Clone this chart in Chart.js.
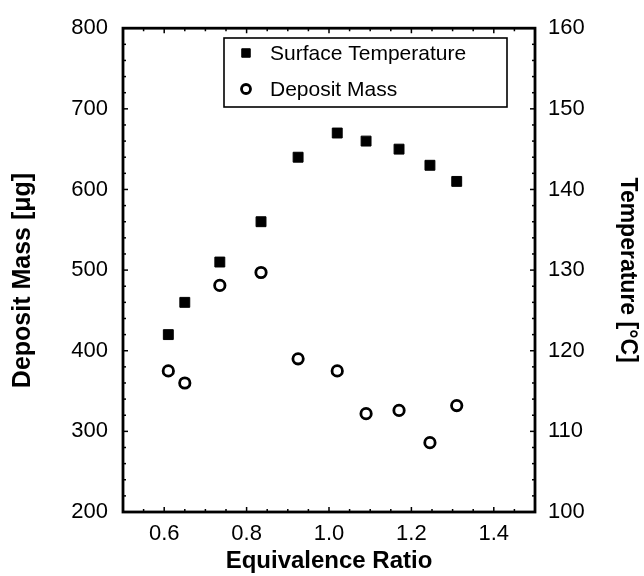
<!DOCTYPE html>
<html>
<head>
<meta charset="utf-8">
<script src="https://cdn.jsdelivr.net/npm/chart.js@4/dist/chart.umd.min.js"></script>
<style>
  html, body { margin: 0; padding: 0; background: #fff; }
  #wrap { width: 644px; height: 576px; }
</style>
</head>
<body>
<div id="wrap"><canvas id="c" width="644" height="576"></canvas></div>
<script>
// ---- data ----
const equivalenceRatio = [0.61, 0.65, 0.735, 0.835, 0.925, 1.02, 1.09, 1.17, 1.245, 1.31];
const surfaceTemperature = [122, 126, 131, 136, 144, 147, 146, 145, 143, 141];
const depositMass = [375, 360, 481, 497, 390, 375, 322, 326, 286, 332];

const xTickValues = [0.6, 0.8, 1.0, 1.2, 1.4];
const massTickValues = [200, 300, 400, 500, 600, 700, 800];
const tempTickValues = [100, 110, 120, 130, 140, 150, 160];

const seriesLabels = ['Surface Temperature', 'Deposit Mass'];

const FONT = "'Liberation Sans', Arial, Helvetica, sans-serif";

const frameAndTicks = {
  id: 'frameAndTicks',
  beforeDatasetsDraw(chart) {
    const {ctx, chartArea: a, scales} = chart;
    ctx.save();
    ctx.strokeStyle = '#000';
    ctx.lineWidth = 1.5;
    const x = scales.x, yl = scales.yMass, yr = scales.yTemp;
    for (let v = 0.5; v <= 1.5001; v += 0.05) {
      const px = x.getPixelForValue(v);
      const major = xTickValues.some(t => Math.abs(t - v) < 1e-6);
      const len = major ? 5 : 3;
      ctx.beginPath();
      ctx.moveTo(px, a.bottom); ctx.lineTo(px, a.bottom - len);
      ctx.moveTo(px, a.top); ctx.lineTo(px, a.top + len);
      ctx.stroke();
    }
    for (let v = 200; v <= 800; v += 20) {
      const py = yl.getPixelForValue(v);
      const len = (v % 100 === 0) ? 5 : 3;
      ctx.beginPath();
      ctx.moveTo(a.left, py); ctx.lineTo(a.left + len, py);
      ctx.stroke();
    }
    for (let v = 100; v <= 160; v += 2) {
      const py = yr.getPixelForValue(v);
      const len = (v % 10 === 0) ? 5 : 3;
      ctx.beginPath();
      ctx.moveTo(a.right, py); ctx.lineTo(a.right - len, py);
      ctx.stroke();
    }
    ctx.lineWidth = 2.8;
    ctx.strokeRect(a.left, a.top, a.right - a.left, a.bottom - a.top);
    ctx.restore();
  },
  afterDatasetsDraw(chart) {
    const {ctx} = chart;
    ctx.save();
    const bx = 224, by = 38, bw = 283, bh = 69;
    ctx.fillStyle = '#fff';
    ctx.fillRect(bx, by, bw, bh);
    ctx.strokeStyle = '#000';
    ctx.lineWidth = 1.6;
    ctx.strokeRect(bx, by, bw, bh);
    const rows = [53, 89];
    chart.data.datasets.forEach((ds, i) => {
      ctx.fillStyle = ds.pointBackgroundColor;
      ctx.strokeStyle = '#000';
      ctx.lineWidth = ds.borderWidth;
      Chart.helpers.drawPoint(ctx, {
        pointStyle: ds.pointStyle,
        radius: ds.legendRadius,
        borderWidth: ds.borderWidth,
        rotation: 0
      }, 246, rows[i]);
      ctx.fillStyle = '#000';
      ctx.font = '21px ' + FONT;
      ctx.textBaseline = 'middle';
      ctx.textAlign = 'left';
      ctx.fillText(ds.label, 270, rows[i] + 1);
    });
    ctx.restore();
  }
};

new Chart(document.getElementById('c'), {
  type: 'scatter',
  data: {
    datasets: [
      {
        label: seriesLabels[0],
        data: equivalenceRatio.map((x, i) => ({x, y: surfaceTemperature[i]})),
        yAxisID: 'yTemp',
        pointStyle: 'rect',
        pointRadius: 7,
        legendRadius: 6,
        pointBackgroundColor: '#000',
        pointBorderColor: '#000',
        borderWidth: 1,
        pointBorderWidth: 1,
        showLine: false
      },
      {
        label: seriesLabels[1],
        data: equivalenceRatio.map((x, i) => ({x, y: depositMass[i]})),
        yAxisID: 'yMass',
        pointStyle: 'circle',
        pointRadius: 5.2,
        legendRadius: 4.5,
        pointBackgroundColor: '#fff',
        pointBorderColor: '#000',
        borderWidth: 2.8,
        pointBorderWidth: 2.8,
        showLine: false
      }
    ]
  },
  options: {
    responsive: false,
    animation: false,
    events: [],
    layout: { padding: { top: 22, left: 0, right: 0, bottom: 0 } },
    plugins: {
      legend: { display: false },
      tooltip: { enabled: false },
      title: { display: false }
    },
    scales: {
      x: {
        type: 'linear',
        position: 'bottom',
        min: 0.5, max: 1.5,
        afterBuildTicks: s => { s.ticks = xTickValues.map(v => ({value: v})); },
        afterFit: s => { s.height = 64; },
        grid: { display: false, drawTicks: false },
        border: { display: false },
        ticks: {
          color: '#000', padding: 9, maxRotation: 0, autoSkip: false,
          font: { family: FONT, size: 22 },
          callback: v => Number(v).toFixed(1)
        },
        title: {
          display: true, text: 'Equivalence Ratio', color: '#000',
          font: { family: FONT, size: 24, weight: 'bold' },
          padding: { top: 0, bottom: 0 }
        }
      },
      yMass: {
        type: 'linear',
        position: 'left',
        min: 200, max: 800,
        afterBuildTicks: s => { s.ticks = massTickValues.map(v => ({value: v})); },
        afterFit: s => { s.width = 123; },
        grid: { display: false, drawTicks: false },
        border: { display: false },
        ticks: {
          color: '#000', padding: 15, autoSkip: false,
          font: { family: FONT, size: 22 }
        },
        title: {
          display: true, text: 'Deposit Mass [μg]   ', color: '#000',
          font: { family: FONT, size: 25, weight: 'bold' },
          padding: { top: 8, bottom: 0 }
        }
      },
      yTemp: {
        type: 'linear',
        position: 'right',
        min: 100, max: 160,
        afterBuildTicks: s => { s.ticks = tempTickValues.map(v => ({value: v})); },
        afterFit: s => { s.width = 109; },
        grid: { display: false, drawTicks: false },
        border: { display: false },
        ticks: {
          color: '#000', padding: 13, autoSkip: false,
          font: { family: FONT, size: 22 }
        },
        title: {
          display: true, text: 'Temperature [°C]', color: '#000',
          font: { family: FONT, size: 23, weight: 'bold' },
          padding: { top: 3, bottom: 0 }
        }
      }
    }
  },
  plugins: [frameAndTicks]
});
</script>
</body>
</html>
